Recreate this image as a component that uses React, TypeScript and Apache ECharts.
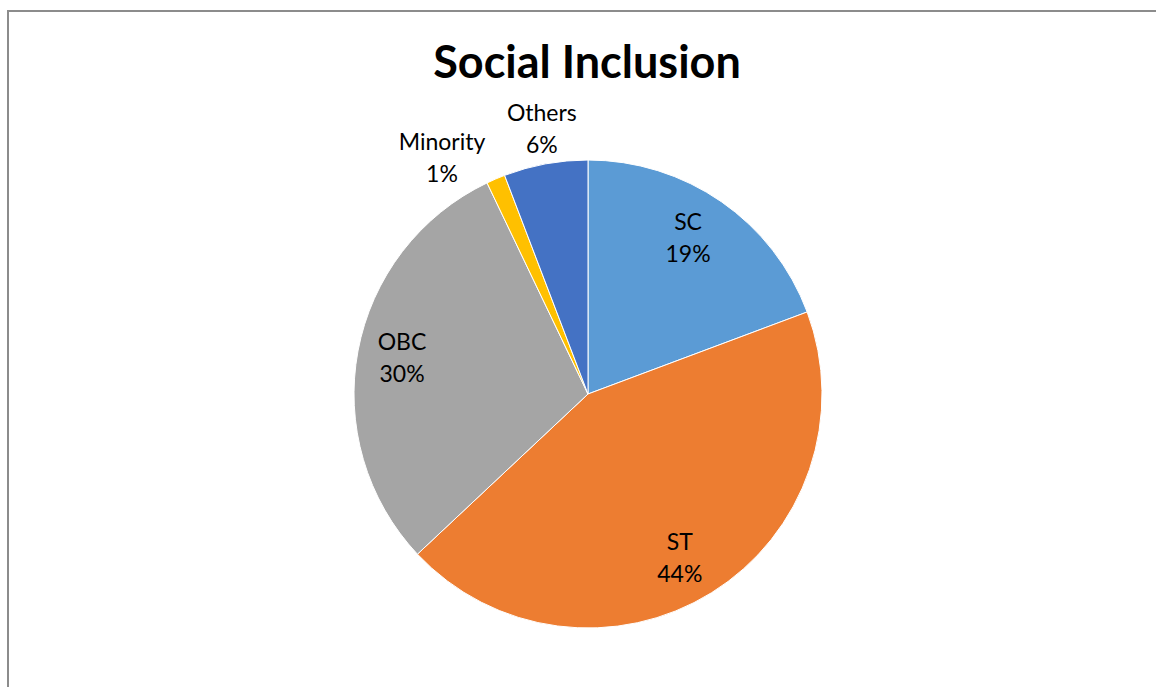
import { useEffect, useRef } from "react";
import * as echarts from "echarts";

const categories = ["SC", "ST", "OBC", "Minority", "Others"];
const values = [19.3, 43.7, 29.9, 1.3, 5.8];
const colors = ["#5B9BD5", "#ED7D31", "#A5A5A5", "#FFC000", "#4472C4"];
const labelRadiusFactor = [0.795, 0.8, 0.81, 1.19, 1.155];
const labelAngleShift = [-2.2, 2.5, 0.5, -8.4, 0.6];

const CX = 588;
const CY = 394;
const RADIUS = 234;

export default function App() {
  const ref = useRef<HTMLDivElement>(null);
  useEffect(() => {
    const chart = echarts.init(ref.current!, null, { renderer: "svg" });
    const total = values.reduce((a, b) => a + b, 0);
    let acc = 0;
    const labelPos: number[][] = [];
    const data = values.map((v, i) => {
      const mid = ((acc + v / 2) / total) * 2 * Math.PI;
      acc += v;
      const ang = mid + (labelAngleShift[i] * Math.PI) / 180;
      const r = labelRadiusFactor[i] * RADIUS;
      labelPos.push([CX + r * Math.sin(ang), CY - r * Math.cos(ang)]);
      return { name: categories[i], value: v, itemStyle: { color: colors[i] } };
    });
    chart.setOption({
      animation: false,
      backgroundColor: "#ffffff",
      title: {
        text: "Social Inclusion",
        left: 582,
        top: 33,
        textAlign: "center",
        textStyle: { fontFamily: "Lato", fontWeight: "bold", fontSize: 45, color: "#000000" },
      },
      graphic: [
        { type: "line", shape: { x1: 7, y1: 11, x2: 1156, y2: 11 }, style: { stroke: "#8c8c8c", lineWidth: 2 } },
        { type: "line", shape: { x1: 8, y1: 10, x2: 8, y2: 687 }, style: { stroke: "#8c8c8c", lineWidth: 2 } },
      ],
      series: [
        {
          type: "pie",
          center: [CX, CY],
          radius: [0, RADIUS],
          startAngle: 90,
          clockwise: true,
          percentPrecision: 0,
          avoidLabelOverlap: false,
          itemStyle: { borderColor: "#ffffff", borderWidth: 1 },
          label: {
            show: true,
            position: "inside",
            formatter: "{b}\n{d}%",
            fontFamily: "Lato",
            fontSize: 23,
            lineHeight: 32,
            color: "#000000",
          },
          labelLine: { show: false },
          labelLayout: (p: any) => ({ x: labelPos[p.dataIndex][0], y: labelPos[p.dataIndex][1] }),
          emphasis: { disabled: true },
          data,
        },
      ],
    });
    return () => chart.dispose();
  }, []);
  return (
    <div
      ref={ref}
      style={{ position: "fixed", left: 0, top: 0, width: 1156, height: 687, background: "#fff" }}
    />
  );
}
